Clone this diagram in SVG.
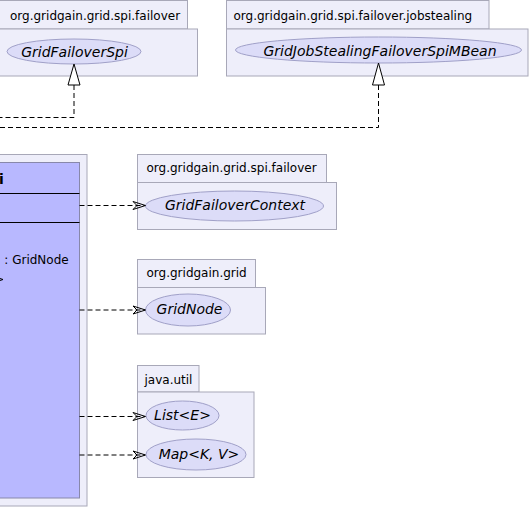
<svg xmlns="http://www.w3.org/2000/svg" width="531" height="508" viewBox="0 0 531 508">
<style>
.pkg{fill:#EEEEFA;stroke:#A8A8B8;stroke-width:1}
.ell{fill:#DCDCF8;stroke:#A0A0C8;stroke-width:1}
.pl{font-family:"DejaVu Sans",sans-serif;font-size:12px;fill:#000}
.el{font-family:"DejaVu Sans",sans-serif;font-size:14px;font-style:italic;fill:#000;text-anchor:middle}
.dash{fill:none;stroke:#000;stroke-width:1;stroke-dasharray:5,3}
.vee{fill:none;stroke:#000;stroke-width:1}
.tri{fill:#fff;stroke:#000;stroke-width:1}
</style>
<rect width="531" height="508" fill="#fff"/>
<g id="pkg-failover-top">
<rect class="pkg" x="-5" y="0.5" width="192.5" height="28.5"/>
<rect class="pkg" x="-5" y="29" width="202.5" height="47"/>
<text class="pl" x="10" y="19.5">org.gridgain.grid.spi.failover</text>
</g>
<g id="GridFailoverSpi">
<ellipse class="ell" cx="74" cy="51.5" rx="67" ry="12.5"/>
<text class="el" x="74.5" y="57">GridFailoverSpi</text>
</g>
<g id="pkg-jobstealing">
<rect class="pkg" x="226.5" y="0.5" width="262.5" height="28.5"/>
<rect class="pkg" x="226.5" y="29" width="301.5" height="47"/>
<text class="pl" x="233.5" y="19.5">org.gridgain.grid.spi.failover.jobstealing</text>
</g>
<g id="GridJobStealingFailoverSpiMBean">
<ellipse class="ell" cx="378.5" cy="50" rx="143" ry="13"/>
<text class="el" x="380" y="55.5">GridJobStealingFailoverSpiMBean</text>
</g>
<g id="class-main">
<rect class="pkg" x="-5" y="154.5" width="92" height="351.5"/>
<rect x="-5" y="162.5" width="84.5" height="335.5" fill="#B8B8FF" stroke="#8888AA" stroke-width="1"/>
<line x1="-5" y1="193.5" x2="79.5" y2="193.5" stroke="#000"/>
<line x1="-5" y1="222.5" x2="79.5" y2="222.5" stroke="#000"/>
<text x="-1" y="184" font-family="DejaVu Sans,sans-serif" font-size="14px" font-weight="bold">i</text>
<text class="pl" x="4.3" y="264">: GridNode</text>
<polyline class="vee" points="-6,276.5 3,279.5 -6,282.5"/>
</g>
<g id="pkg-failover-ctx">
<rect class="pkg" x="137.5" y="154.5" width="189" height="28"/>
<rect class="pkg" x="137.5" y="182.5" width="199" height="47"/>
<text class="pl" x="146.5" y="172">org.gridgain.grid.spi.failover</text>
</g>
<g id="GridFailoverContext">
<ellipse class="ell" cx="234.5" cy="206" rx="89" ry="15"/>
<text class="el" x="235" y="210">GridFailoverContext</text>
</g>
<g id="pkg-grid">
<rect class="pkg" x="137.5" y="259.5" width="118" height="28"/>
<rect class="pkg" x="137.5" y="287.5" width="128" height="46.5"/>
<text class="pl" x="146.5" y="277">org.gridgain.grid</text>
</g>
<g id="GridNode">
<ellipse class="ell" cx="188" cy="310" rx="42.5" ry="16"/>
<text class="el" x="189.5" y="314">GridNode</text>
</g>
<g id="pkg-java-util">
<rect class="pkg" x="137.5" y="365.5" width="61.5" height="26.5"/>
<rect class="pkg" x="137.5" y="392" width="116.5" height="85.5"/>
<text class="pl" x="144.5" y="383.5">java.util</text>
</g>
<g id="List">
<ellipse class="ell" cx="182.5" cy="415.5" rx="36.5" ry="14.5"/>
<text class="el" x="182.5" y="419.5">List&lt;E&gt;</text>
</g>
<g id="Map">
<ellipse class="ell" cx="196" cy="454.5" rx="50" ry="15.5"/>
<text class="el" x="199" y="458.5">Map&lt;K, V&gt;</text>
</g>
<g id="connectors">
<polyline class="dash" points="74,85 74,117.5 0,117.5"/>
<polygon class="tri" points="74,64 68,85 80,85"/>
<polyline class="dash" points="378.5,85 378.5,127.5 0,127.5"/>
<polygon class="tri" points="378.5,63 372.5,85 384.5,85"/>
<line class="dash" x1="79.5" y1="205.5" x2="145" y2="205.5"/>
<polygon class="vee" points="145.5,205.5 133,201.5 137,205.5 133,209.5"/>
<line class="dash" x1="79.5" y1="310" x2="145" y2="310"/>
<polygon class="vee" points="145.5,310 133,306 137,310 133,314"/>
<line class="dash" x1="79.5" y1="416.5" x2="145" y2="416.5"/>
<polygon class="vee" points="145.5,416.5 133,412.5 137,416.5 133,420.5"/>
<line class="dash" x1="79.5" y1="455" x2="145" y2="455"/>
<polygon class="vee" points="145.5,455 133,451 137,455 133,459"/>
</g>
</svg>
